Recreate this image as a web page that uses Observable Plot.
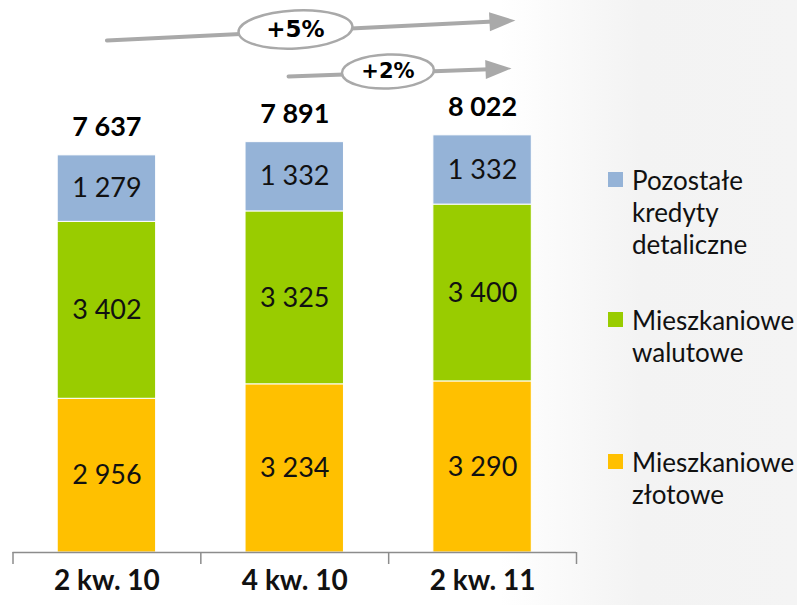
<!DOCTYPE html>
<html>
<head>
<meta charset="utf-8">
<script src="https://cdn.jsdelivr.net/npm/d3@7"></script>
<script src="https://cdn.jsdelivr.net/npm/@observablehq/plot@0.6"></script>
<style>
  html, body { margin: 0; padding: 0; }
  body {
    width: 797px; height: 605px; overflow: hidden; position: relative;
    background: linear-gradient(to right, #ffffff 0px, #ffffff 500px, #f3f3f3 640px, #f4f4f4 797px);
    font-family: Lato, "Open Sans", sans-serif;
  }
  #chart { position: absolute; left: 0; top: 0; }
  .leg { position: absolute; left: 608px; font-size: 26px; line-height: 32px; color: #111; }
  .leg .sw { position: absolute; left: 0; top: 8px; width: 15px; height: 15px; }
  .leg .tx { position: absolute; left: 24px; top: 0; white-space: nowrap; }
</style>
</head>
<body>
<div id="chart"></div>
<div id="legend"></div>
<script>
// ---- data ----
const categories = ["2 kw. 10", "4 kw. 10", "2 kw. 11"];
const seriesNames = ["Mieszkaniowe złotowe", "Mieszkaniowe walutowe", "Pozostałe kredyty detaliczne"];
const legendLines = [["Pozostałe", "kredyty", "detaliczne"], ["Mieszkaniowe", "walutowe"], ["Mieszkaniowe", "złotowe"]];
const zlotowe = [2956, 3234, 3290];
const walutowe = [3402, 3325, 3400];
const pozostale = [1279, 1332, 1332];
const totals = [7637, 7891, 8022];
const seriesColors = ["#FFC000", "#99CC00", "#95B3D7"];
const growthLabels = ["+5%", "+2%"];
const arrowStartX = [0.0, 0.967];
const arrowStartY = [9846, 9154];
const arrowEndX = [2.175, 2.154];
const arrowEndY = [10231, 9308];
const growthLabelX = [1.004, 1.496];
const growthLabelY = [10058, 9250];

// ---- layout ----
const W = 797, H = 605;
const mL = 12.5, mR = 221, mT = 0, mB = 53;
const xDomain = [-0.5, 2.5], yDomain = [0, 10615];
const xs = Plot.scale({x: {type: "linear", domain: xDomain, range: [mL, W - mR]}});
const ys = Plot.scale({y: {type: "linear", domain: yDomain, range: [H - mB, mT]}});

const fmt = v => d3.format(",")(v).replace(/,/g, " ");

const valuesBySeries = [zlotowe, walutowe, pozostale];
const rows = [];
categories.forEach((c, i) => {
  let acc = 0;
  seriesNames.forEach((s, j) => {
    const v = valuesBySeries[j][i];
    rows.push({i, cat: c, series: s, value: v, y1: acc, y2: acc + v});
    acc += v;
  });
});
const totalRows = categories.map((c, i) => ({i, total: totals[i]}));
const arrows = growthLabels.map((t, k) => {
  const a = Math.atan2(ys.apply(arrowEndY[k]) - ys.apply(arrowStartY[k]), xs.apply(arrowEndX[k]) - xs.apply(arrowStartX[k])) * 180 / Math.PI;
  return {label: t, x1: arrowStartX[k], y1: arrowStartY[k], x2: arrowEndX[k], y2: arrowEndY[k], lx: growthLabelX[k], ly: growthLabelY[k], angle: a};
});

function ellipseSymbol(rx, ry) {
  const k = 0.5523;
  return {draw(ctx) {
    ctx.moveTo(rx, 0);
    ctx.bezierCurveTo(rx, ry * k, rx * k, ry, 0, ry);
    ctx.bezierCurveTo(-rx * k, ry, -rx, ry * k, -rx, 0);
    ctx.bezierCurveTo(-rx, -ry * k, -rx * k, -ry, 0, -ry);
    ctx.bezierCurveTo(rx * k, -ry, rx, -ry * k, rx, 0);
    ctx.closePath();
  }};
}
const headSymbol = {draw(ctx) {
  ctx.moveTo(0, 0); ctx.lineTo(-26, -9.5); ctx.lineTo(-26, 9.5); ctx.closePath();
}};

const arrowGray = "#a9a9a9";
const chart = Plot.plot({
  width: W, height: H,
  marginLeft: mL, marginRight: mR, marginTop: mT, marginBottom: mB,
  style: {background: "transparent", fontFamily: "Lato, 'Open Sans', sans-serif", overflow: "visible"},
  x: {type: "linear", domain: xDomain, label: null},
  y: {domain: yDomain, axis: null},
  color: {domain: seriesNames, range: seriesColors},
  marks: [
    Plot.rectY(rows, {x1: d => d.i - 0.262, x2: d => d.i + 0.262, y1: "y1", y2: "y2", fill: "series", stroke: "white", strokeWidth: 1}),
    Plot.text(rows, {x: "i", y: d => (d.y1 + d.y2) / 2, text: d => fmt(d.value), fontSize: 27, fill: "#111"}),
    Plot.text(totalRows, {x: "i", y: "total", dy: -28, text: d => fmt(d.total), fontSize: 27, fontWeight: "bold", fill: "#000"}),
    Plot.ruleY([0], {stroke: "#8c8c8c", strokeWidth: 1.5}),
    Plot.axisX([-0.5, 0.5, 1.5, 2.5], {tickSize: 12, tickFormat: () => "", stroke: "#8c8c8c", strokeWidth: 1.5}),
    Plot.axisX([0, 1, 2], {tickSize: 0, tickPadding: 18, tickFormat: i => categories[i], fontSize: 28, fontWeight: "bold", fill: "#111"}),
    Plot.arrow(arrows, {x1: "x1", y1: "y1", x2: "x2", y2: "y2", headLength: 0, insetEnd: 22, stroke: arrowGray, strokeWidth: 4}),
    Plot.dot(arrows, {x: "x2", y: "y2", symbol: headSymbol, rotate: "angle", fill: arrowGray}),
    Plot.dot(arrows.slice(0, 1), {x: "lx", y: "ly", symbol: ellipseSymbol(57, 19), rotate: "angle", fill: "white", stroke: arrowGray, strokeWidth: 2.5}),
    Plot.dot(arrows.slice(1, 2), {x: "lx", y: "ly", symbol: ellipseSymbol(46, 17), rotate: "angle", fill: "white", stroke: arrowGray, strokeWidth: 2.5}),
    Plot.text(arrows.slice(0, 1), {x: "lx", y: "ly", text: "label", fontSize: 23, fontWeight: "bold", fontFamily: "DejaVu Sans", fill: "#000"}),
    Plot.text(arrows.slice(1, 2), {x: "lx", y: "ly", text: "label", fontSize: 21, fontWeight: "bold", fontFamily: "DejaVu Sans", fill: "#000"})
  ]
});
document.getElementById("chart").appendChild(chart);

// ---- legend (HTML overlay at right) ----
const legendTops = [164, 304, 446];
const legendOrder = [2, 1, 0];
const leg = document.getElementById("legend");
legendOrder.forEach((j, k) => {
  const item = document.createElement("div");
  item.className = "leg";
  item.style.top = legendTops[k] + "px";
  const sw = document.createElement("div");
  sw.className = "sw"; sw.style.background = seriesColors[j];
  const tx = document.createElement("div");
  tx.className = "tx";
  tx.innerHTML = legendLines[k].join("<br>");
  item.appendChild(sw); item.appendChild(tx);
  leg.appendChild(item);
});
</script>
</body>
</html>
